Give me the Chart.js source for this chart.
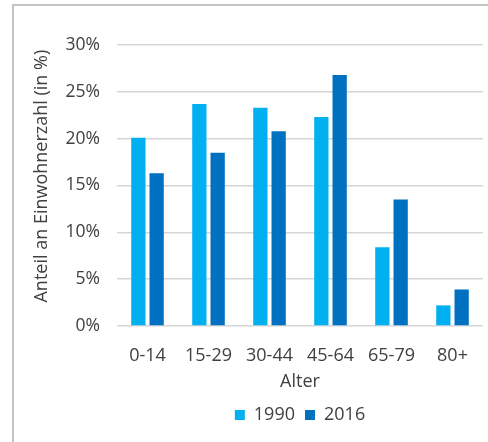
<!DOCTYPE html>
<html lang="de">
<head>
<meta charset="utf-8">
<script src="https://cdn.jsdelivr.net/npm/chart.js@4.4.1/dist/chart.umd.min.js"></script>
<style>
  html, body { margin: 0; padding: 0; background: #fff; }
  .wrap { position: relative; width: 488px; height: 442px; overflow: hidden; }
  .frame {
    position: absolute; left: 12px; top: 4px; width: 480px; height: 450px;
    border-left: 2px solid #c3c3c3; border-top: 2px solid #c3c3c3;
  }
  canvas { position: absolute; left: 0; top: 0; }
</style>
</head>
<body>
<div class="wrap">
  <div class="frame"></div>
  <canvas id="myChart" width="488" height="442"></canvas>
</div>
<script>
let ageGroups = ["0-14", "15-29", "30-44", "45-64", "65-79", "80+"];
let share1990 = [20.1, 23.7, 23.3, 22.3, 8.4, 2.2];
let share2016 = [16.3, 18.5, 20.8, 26.8, 13.5, 3.9];
let yTicks = [0, 5, 10, 15, 20, 25, 30];

let textColor = "#404040";
let fontFamily = "'Open Sans', sans-serif";
let myChart;

displayChart(ageGroups, share1990, share2016);

function displayChart(labels, data1, data2) {
  const ctx = document.getElementById("myChart");
  if (myChart) {
    myChart.destroy();
  }
  myChart = new Chart(ctx, {
    type: "bar",
    data: {
      labels: labels,
      datasets: [
        {
          label: "1990",
          data: data1,
          backgroundColor: "#00b0f0",
          barPercentage: 0.78,
          categoryPercentage: 0.6,
        },
        {
          label: "2016",
          data: data2,
          backgroundColor: "#0070c0",
          barPercentage: 0.78,
          categoryPercentage: 0.6,
        },
      ],
    },
    options: {
      responsive: false,
      animation: false,
      layout: {
        padding: { top: 45, right: 5, bottom: 8, left: 0 },
      },
      scales: {
        x: {
          grid: { display: false },
          border: { display: false },
          ticks: {
            color: textColor,
            font: { family: fontFamily, size: 18 },
            padding: 11,
            maxRotation: 0,
          },
          title: {
            display: true,
            text: "Alter",
            color: textColor,
            font: { family: fontFamily, size: 18 },
            padding: { top: 0, bottom: 3 },
          },
          afterFit: (scale) => {
            scale.height = 70;
          },
        },
        y: {
          min: 0,
          max: 30,
          border: { display: false },
          grid: {
            color: "#d6d6d6",
            lineWidth: 1.5,
            drawTicks: false,
          },
          afterBuildTicks: (scale) => {
            scale.ticks = yTicks.map((v) => ({ value: v }));
          },
          ticks: {
            color: textColor,
            font: { family: fontFamily, size: 17.5 },
            padding: 17,
            callback: (value) => value + "%",
          },
          title: {
            display: true,
            // leading spaces push the title a bit up along the axis
            text: "    Anteil an Einwohnerzahl (in %)",
            color: textColor,
            font: { family: fontFamily, size: 18 },
            padding: { top: 31, bottom: 0 },
          },
          afterFit: (scale) => {
            scale.width = 117;
          },
        },
      },
      plugins: {
        legend: {
          position: "bottom",
          fullSize: false,
          labels: {
            color: textColor,
            font: { family: fontFamily, size: 18 },
            boxWidth: 10,
            boxHeight: 10,
            padding: 10,
          },
        },
        tooltip: { enabled: false },
      },
    },
  });
}
</script>
</body>
</html>
